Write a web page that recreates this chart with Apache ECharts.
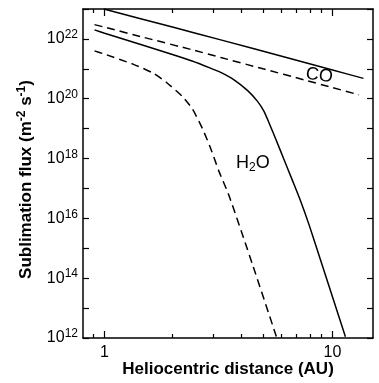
<!DOCTYPE html>
<html><head><meta charset="utf-8">
<script src="https://cdn.jsdelivr.net/npm/echarts@6/dist/echarts.min.js"></script>
<style>html,body{margin:0;padding:0;background:#fff}#c{width:379px;height:383px}</style>
</head><body><div id="c"></div>
<script>
// Heliocentric distance (AU) and sublimation flux (m^-2 s^-1)
const coSolidR   = [1.0, 2.0, 3.26, 6.39, 10, 13.8];
const coSolidF   = [1.0e23, 2.5e22, 9.3e21, 2.35e21, 9.3e20, 4.8e20];
const coDashR    = [0.91, 1.0, 1.5, 2.48, 3.26, 5.0, 7.56, 10, 13.2];
const coDashF    = [3.0e22, 2.5e22, 1.12e22, 4.2e21, 2.4e21, 1.0e21, 4.3e20, 2.4e20, 1.35e20];
const h2oSolidR  = [0.91, 1.0, 1.5, 2.0, 2.44, 2.9, 3.26, 3.73, 4.27, 4.72, 5.05, 5.31, 5.68, 6.18, 6.73, 7.31, 8.0, 8.95, 11.5];
const h2oSolidF  = [2.0e22, 1.58e22, 6.0e21, 3.0e21, 1.82e21, 1.1e21, 7.6e20, 4.3e20, 1.9e20, 8.3e19, 3.8e19, 1.58e19, 4.6e18, 9.3e17, 1.86e17, 3.8e16, 5.5e15, 4.0e14, 1.1e12];
const h2oDashR   = [0.91, 1.0, 1.35, 1.65, 1.88, 2.21, 2.45, 2.71, 2.94, 3.20, 3.55, 4.5, 5.72];
const h2oDashF   = [3.98e21, 3.16e21, 1.41e21, 7.1e20, 3.55e20, 1.2e20, 4.5e19, 1.0e19, 2.24e18, 3.8e17, 5.6e16, 2.8e14, 1.12e12];
const xRange      = [0.81, 15.2];
const yRange      = [1e12, 1e23];
const xMajorTicks = [1, 10];
const xMinorTicks = [0.9, 2, 3, 4, 5, 6, 7, 8, 9];

const FONT = '"Liberation Sans", Arial, Helvetica, sans-serif';
const lg = Math.log10;
// the axes are drawn in log10 units (log-log chart)
const toPts = (r, f) => r.map((v, i) => [lg(v), lg(f[i])]);

const chart = echarts.init(document.getElementById('c'), null, {renderer: 'canvas'});
const axisLineStyle = {color: '#000', width: 1.5};
const tickStyle = {color: '#000', width: 1.2};

const supRich = {
  b: {fontSize: 16, fontFamily: FONT, color: '#000', lineHeight: 20},
  s: {fontSize: 12, fontFamily: FONT, color: '#000', lineHeight: 20, verticalAlign: 'top'}
};

const lineSeries = (r, f, dashed) => ({
  type: 'line', data: toPts(r, f), showSymbol: false, symbol: 'none',
  smooth: 0.2,
  xAxisIndex: 0, yAxisIndex: 0, silent: true, clip: true,
  lineStyle: {color: '#000', width: 1.5, type: dashed ? [8, 5] : 'solid'}
});

const xBase = {
  type: 'value', min: lg(xRange[0]), max: lg(xRange[1]),
  axisLine: {onZero: false, lineStyle: axisLineStyle}, axisTick: {show: false},
  axisLabel: {show: false}, splitLine: {show: false}
};
const yBase = {
  type: 'value', min: lg(yRange[0]), max: lg(yRange[1]), interval: 1,
  axisLine: {onZero: false, lineStyle: axisLineStyle},
  axisTick: {inside: true, length: 6, lineStyle: tickStyle},
  splitLine: {show: false}
};

chart.setOption({
  animation: false,
  backgroundColor: '#fff',
  grid: {left: 83, right: 6, top: 9, bottom: 45, containLabel: false},
  xAxis: [Object.assign({}, xBase, {
    position: 'bottom',
    name: 'Heliocentric distance (AU)', nameLocation: 'middle', nameGap: 23,
    nameTextStyle: {fontWeight: 'bold', fontSize: 17, color: '#000', fontFamily: FONT}
  }), Object.assign({}, xBase, {position: 'top'})],
  yAxis: [Object.assign({}, yBase, {
    position: 'left',
    axisLabel: {
      formatter: v => (Math.round(v) % 2 === 0 ? '{b|10}{s|' + Math.round(v) + '}' : ''),
      rich: supRich, margin: 5
    },
    name: 'Sublimation flux (m{s|-2} s{s|-1})', nameLocation: 'middle', nameGap: 46,
    nameTextStyle: {fontWeight: 'bold', fontSize: 17, color: '#000', fontFamily: FONT,
      padding: [0, 12, 0, 0], lineHeight: 20,
      rich: {s: {fontWeight: 'bold', fontSize: 12, color: '#000', fontFamily: FONT, verticalAlign: 'top', lineHeight: 20}}}
  }), Object.assign({}, yBase, {position: 'right', axisLabel: {show: false}})],
  series: [
    lineSeries(coSolidR, coSolidF, false),
    lineSeries(coDashR, coDashF, true),
    lineSeries(h2oSolidR, h2oSolidF, false),
    lineSeries(h2oDashR, h2oDashF, true)
  ]
});

// x ticks (log positions) on bottom and top, placed through the axis scale
const yBot = chart.convertToPixel({yAxisIndex: 0}, lg(yRange[0]));
const yTop = chart.convertToPixel({yAxisIndex: 0}, lg(yRange[1]));
const g = [];
function tick(v, len) {
  const px = Math.round(chart.convertToPixel({xAxisIndex: 0}, lg(v))) + 0.5;
  g.push({type: 'line', silent: true, shape: {x1: px, y1: yBot, x2: px, y2: yBot - len}, style: {stroke: '#000', lineWidth: 1.2}});
  g.push({type: 'line', silent: true, shape: {x1: px, y1: yTop, x2: px, y2: yTop + len}, style: {stroke: '#000', lineWidth: 1.2}});
  return px;
}
xMinorTicks.forEach(v => tick(v, 4));
xMajorTicks.forEach(v => {
  const px = tick(v, 7);
  g.push({type: 'text', silent: true, style: {x: px, y: yBot + 7, text: String(v), align: 'center', verticalAlign: 'top',
    font: '16px ' + FONT, fill: '#000'}});
});
g.push({type: 'text', silent: true, x: 307, y: 65, rotation: -0.12,
  style: {text: 'CO', font: '18px ' + FONT, fill: '#000'}});
g.push({type: 'text', silent: true, x: 236, y: 152,
  style: {text: '{b|H}{s|2}{b|O}', fill: '#000', rich: {
    b: {fontSize: 18, fontFamily: FONT, color: '#000', lineHeight: 22},
    s: {fontSize: 12, fontFamily: FONT, color: '#000', lineHeight: 22, verticalAlign: 'bottom'}}}});
chart.setOption({graphic: g});
</script></body></html>
